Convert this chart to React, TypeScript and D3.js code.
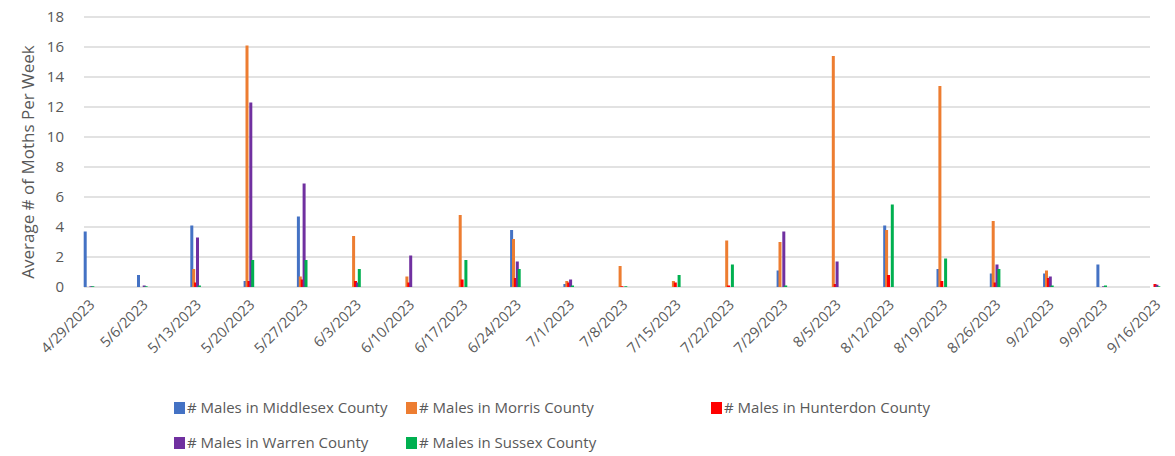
import React, { useEffect, useRef } from "react";
import * as d3 from "d3";

const dates = [
  "4/29/2023", "5/6/2023", "5/13/2023", "5/20/2023", "5/27/2023", "6/3/2023",
  "6/10/2023", "6/17/2023", "6/24/2023", "7/1/2023", "7/8/2023", "7/15/2023",
  "7/22/2023", "7/29/2023", "8/5/2023", "8/12/2023", "8/19/2023", "8/26/2023",
  "9/2/2023", "9/9/2023", "9/16/2023",
];

const middlesex = [3.7, 0.8, 4.1, 0.4, 4.7, 0, 0, 0, 3.8, 0.2, 0, 0, 0, 1.1, 0, 4.1, 1.2, 0.9, 0.9, 1.5, 0];
const morris = [0, 0, 1.2, 16.1, 0.7, 3.4, 0.7, 4.8, 3.2, 0.4, 1.4, 0.4, 3.1, 3.0, 15.4, 3.8, 13.4, 4.4, 1.1, 0, 0];
const hunterdon = [0, 0, 0.3, 0.4, 0.5, 0.4, 0.3, 0.5, 0.6, 0.3, 0.05, 0.3, 0.1, 0, 0.2, 0.8, 0.4, 0.3, 0.6, 0, 0.2];
const warren = [0.05, 0.1, 3.3, 12.3, 6.9, 0.3, 2.1, 0, 1.7, 0.5, 0, 0, 0, 3.7, 1.7, 0, 0, 1.5, 0.7, 0.05, 0.15];
const sussex = [0.05, 0.05, 0.1, 1.8, 1.8, 1.2, 0, 1.8, 1.2, 0.1, 0.05, 0.8, 1.5, 0.1, 0, 5.5, 1.9, 1.2, 0.1, 0.1, 0.05];

const seriesNames = [
  "# Males in Middlesex County",
  "# Males in Morris County",
  "# Males in Hunterdon County",
  "# Males in Warren County",
  "# Males in Sussex County",
];
const seriesColors = ["#4472C4", "#ED7D31", "#FF0000", "#7030A0", "#00B050"];
const yTicks = [0, 2, 4, 6, 8, 10, 12, 14, 16, 18];

const FONT = "'Open Sans', sans-serif";
const TEXT = "#595959";

export default function App() {
  const svgRef = useRef<SVGSVGElement>(null);

  useEffect(() => {
    if (!svgRef.current) return;
    const svg = d3.select(svgRef.current);
    svg.selectAll("*").remove();

    const values = [middlesex, morris, hunterdon, warren, sussex];

    const x = d3.scalePoint<string>().domain(dates).range([89, 1155]);
    const y = d3.scaleLinear().domain([0, 18]).range([287, 17]);
    // bars inside a date overlap a little, like the original
    const inner = d3
      .scalePoint<number>()
      .domain([0, 1, 2, 3, 4])
      .range([-3.8, 3.8]);
    const barW = 3;

    // grid
    svg
      .append("g")
      .selectAll("line")
      .data(yTicks)
      .enter()
      .append("line")
      .attr("x1", 84)
      .attr("x2", 1150)
      .attr("y1", (d) => y(d))
      .attr("y2", (d) => y(d))
      .attr("stroke", "#d9d9d9")
      .attr("stroke-width", 1.5);

    // y tick labels
    svg
      .append("g")
      .selectAll("text")
      .data(yTicks)
      .enter()
      .append("text")
      .attr("x", 64)
      .attr("y", (d) => y(d))
      .attr("dy", "0.35em")
      .attr("text-anchor", "end")
      .style("font-family", FONT)
      .style("font-size", "15px")
      .style("fill", TEXT)
      .text((d) => d);

    // y title
    svg
      .append("text")
      .attr("transform", `translate(28,${(y(0) + y(18)) / 2 + 10}) rotate(-90)`)
      .attr("text-anchor", "middle")
      .attr("dy", "0.35em")
      .style("font-family", FONT)
      .style("font-size", "17px")
      .style("fill", TEXT)
      .text("Average # of Moths Per Week");

    // bars
    values.forEach((vals, si) => {
      svg
        .append("g")
        .selectAll("rect")
        .data(vals)
        .enter()
        .append("rect")
        .attr("x", (_, i) => (x(dates[i]) as number) + (inner(si) as number) - barW / 2)
        .attr("y", (d) => y(d))
        .attr("width", barW)
        .attr("height", (d) => y(0) - y(d))
        .attr("fill", seriesColors[si]);
    });

    // x labels
    svg
      .append("g")
      .selectAll("text")
      .data(dates)
      .enter()
      .append("text")
      .attr(
        "transform",
        (d) => `translate(${(x(d) as number) + 3},${302}) rotate(-45)`
      )
      .attr("text-anchor", "end")
      .attr("dy", "0.35em")
      .style("font-family", FONT)
      .style("font-size", "14.5px")
      .style("fill", TEXT)
      .text((d) => d);

    // legend
    const legendPos = [
      { x: 174, y: 408 },
      { x: 406, y: 408 },
      { x: 711, y: 408 },
      { x: 174, y: 443 },
      { x: 406, y: 443 },
    ];
    const legend = svg
      .append("g")
      .selectAll("g")
      .data(seriesNames)
      .enter()
      .append("g")
      .attr("transform", (_, i) => `translate(${legendPos[i].x},${legendPos[i].y})`);
    legend
      .append("rect")
      .attr("x", 0)
      .attr("y", -6)
      .attr("width", 11)
      .attr("height", 12)
      .attr("fill", (_, i) => seriesColors[i]);
    legend
      .append("text")
      .attr("x", 13)
      .attr("dy", "0.35em")
      .style("font-family", FONT)
      .style("font-size", "15px")
      .style("fill", TEXT)
      .text((d) => d);
  }, []);

  return (
    <svg
      ref={svgRef}
      width={1175}
      height={456}
      style={{ position: "absolute", left: 0, top: 0, background: "#fff" }}
    />
  );
}
